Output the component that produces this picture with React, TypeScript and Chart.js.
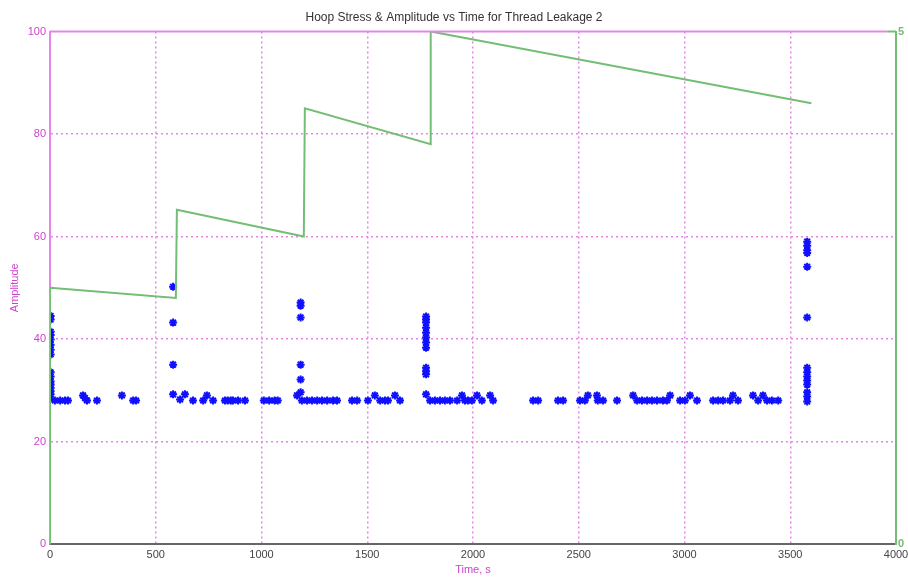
import React, { useEffect, useRef } from 'react';
import { Chart, registerables } from 'chart.js';
Chart.register(...registerables);

// Amplitude samples (time in s, amplitude)
const ampTime = [
  3, 3, 3, 3, 3, 3, 3, 3, 3, 3, 3, 3, 3, 3, 3, 3,
  23, 48, 71, 85, 156, 165, 175, 222, 340, 393, 407,
  582, 582, 582, 582,
  615, 638, 676, 724, 742, 771, 827, 840, 855, 865, 889, 922,
  1011, 1036, 1062, 1077,
  1185, 1185, 1185, 1185, 1185, 1185,
  1168, 1191, 1215, 1239, 1263, 1286, 1310, 1338, 1357, 1428, 1452,
  1503, 1536, 1561, 1584, 1598, 1631, 1655,
  1778, 1778, 1778, 1778, 1778, 1778, 1778, 1778, 1778, 1778, 1778, 1778,
  1797, 1820, 1844, 1867, 1891, 1925, 1948, 1962, 1976, 1995, 2019, 2042, 2081, 2095,
  2284, 2308, 2402, 2426, 2506, 2529, 2543, 2586, 2590, 2615, 2681,
  2757, 2776, 2799, 2823, 2846, 2870, 2898, 2917, 2932,
  2979, 3002, 3026, 3059, 3135, 3159, 3182, 3215, 3229, 3253,
  3324, 3348, 3371, 3390, 3413, 3443,
  3580, 3580, 3580, 3580, 3580, 3580, 3580, 3580, 3580, 3580, 3580, 3580, 3580, 3580,
];
const ampValue = [
  44.5, 43.8, 41.4, 40.8, 39.9, 38.9, 37.9, 37, 33.5, 32.7, 31.7, 31.1, 30.5, 29.8, 29.2, 28.4,
  28, 28, 28, 28, 29, 28.5, 28, 28, 29, 28, 28,
  50.2, 43.2, 35, 29.2,
  28.2, 29.2, 28, 28, 29, 28, 28, 28, 28, 28, 28, 28,
  28, 28, 28, 28,
  47.1, 46.5, 44.2, 35, 32.1, 29.6,
  29, 28, 28, 28, 28, 28, 28, 28, 28, 28, 28,
  28, 29, 28, 28, 28, 29, 28,
  44.4, 43.8, 43.2, 42.2, 41.2, 40.3, 39.3, 38.3, 34.4, 33.7, 33.1, 29.2,
  28, 28, 28, 28, 28, 28, 29, 28, 28, 28, 29, 28, 29, 28,
  28, 28, 28, 28, 28, 28, 29, 29, 28, 28, 28,
  29, 28, 28, 28, 28, 28, 28, 28, 29,
  28, 28, 29, 28, 28, 28, 28, 28, 29, 28,
  29, 28, 29, 28, 28, 28,
  59, 58.2, 57.3, 56.8, 54.1, 44.2, 34.4, 33.5, 32.7, 31.9, 31.1, 29.6, 28.8, 27.8,
];

// Hoop stress (right axis, 0..5)
const hoopTime = [0, 0, 595, 600, 1200, 1205, 1800, 1800, 3600];
const hoopStress = [0, 2.5, 2.4, 3.26, 3.0, 4.25, 3.9, 5, 4.3];

const rightTicks = [0, 5];

const MAGENTA_TEXT = '#cc44cc';
const MAGENTA_GRID = '#e585e5';
const GREEN = '#74bd74';
const FONT = 'Liberation Sans, Arial, sans-serif';

export default function App() {
  const ref = useRef<HTMLCanvasElement>(null);
  useEffect(() => {
    if (!ref.current) return;
    const framePlugin = {
      id: 'frame',
      afterDraw(chart: any) {
        const { ctx, chartArea } = chart;
        ctx.save();
        ctx.strokeStyle = MAGENTA_GRID;
        ctx.lineWidth = 2;
        ctx.beginPath();
        ctx.moveTo(chartArea.left, chartArea.top);
        ctx.lineTo(chartArea.right - 8, chartArea.top);
        ctx.stroke();
        ctx.strokeStyle = GREEN;
        ctx.beginPath();
        ctx.moveTo(chartArea.right - 8, chartArea.top);
        ctx.lineTo(chartArea.right, chartArea.top);
        ctx.stroke();
        ctx.restore();
      },
    };
    const chart = new Chart(ref.current, {
      type: 'scatter',
      data: {
        datasets: [
          {
            label: 'Hoop Stress',
            type: 'line',
            data: hoopTime.map((x, i) => ({ x, y: hoopStress[i] })),
            yAxisID: 'y2',
            borderColor: GREEN,
            borderWidth: 2,
            pointRadius: 0,
            fill: false,
            tension: 0,
          } as any,
          {
            label: 'Amplitude',
            data: ampTime.map((x, i) => ({ x, y: ampValue[i] })),
            yAxisID: 'y',
            pointStyle: 'star',
            pointRadius: 4,
            borderColor: '#1010ff',
            backgroundColor: '#1010ff',
            borderWidth: 2,
            showLine: false,
          },
        ],
      },
      options: {
        animation: false,
        responsive: false,
        layout: { padding: 0 },
        plugins: {
          legend: { display: false },
          tooltip: { enabled: false },
          title: {
            display: true,
            text: 'Hoop Stress & Amplitude vs Time for Thread Leakage 2',
            color: '#333333',
            font: { family: FONT, size: 12, weight: 'normal' },
            padding: { top: 10, bottom: 7.1 },
          },
        },
        scales: {
          x: {
            type: 'linear',
            min: 0,
            max: 4000,
            ticks: {
              stepSize: 500,
              color: '#444444',
              font: { family: FONT, size: 11 },
              padding: 4,
              maxRotation: 0,
              callback: (v: any) => String(v),
            },
            grid: {
              color: (c: any) => (c.tick && (c.tick.value === 0 || c.tick.value === 4000) ? 'rgba(0,0,0,0)' : MAGENTA_GRID),
              lineWidth: 1.5,
              drawTicks: false,
            },
            border: { display: true, color: '#666666', width: 2, dash: [2, 3] },
            title: {
              display: true,
              text: 'Time, s',
              color: MAGENTA_TEXT,
              font: { family: FONT, size: 11 },
              padding: { top: 2, bottom: 3.4 },
            },
            afterFit: (s: any) => {
              s.height = 36;
              s.paddingLeft = 0;
              s.paddingRight = 0;
            },
          },
          y: {
            position: 'left',
            min: 0,
            max: 100,
            ticks: { stepSize: 20, color: MAGENTA_TEXT, font: { family: FONT, size: 11 }, padding: 4 },
            grid: {
              color: (c: any) => (c.tick && (c.tick.value === 0 || c.tick.value === 100) ? 'rgba(0,0,0,0)' : MAGENTA_GRID),
              lineWidth: 1.5,
              drawTicks: false,
            },
            border: { display: true, color: MAGENTA_GRID, width: 2, dash: [2, 3] },
            title: {
              display: true,
              text: 'Amplitude',
              color: MAGENTA_TEXT,
              font: { family: FONT, size: 11 },
              padding: { top: 8.4, bottom: 0 },
            },
            afterFit: (s: any) => {
              s.width = 50;
              s.paddingTop = 0;
              s.paddingBottom = 0;
            },
          },
          y2: {
            position: 'right',
            min: 0,
            max: 5,
            ticks: { color: GREEN, font: { family: FONT, size: 11, weight: 'bold' }, padding: 2 },
            afterBuildTicks: (s: any) => {
              s.ticks = rightTicks.map((v) => ({ value: v }));
            },
            grid: { display: false, drawTicks: false },
            border: { display: true, color: GREEN, width: 2 },
            afterFit: (s: any) => {
              s.width = 12;
              s.paddingTop = 0;
              s.paddingBottom = 0;
            },
          },
        },
      },
      plugins: [framePlugin],
    } as any);
    return () => chart.destroy();
  }, []);
  return (
    <div style={{ position: 'fixed', left: 0, top: 0, width: 908, height: 580, background: '#ffffff' }}>
      <canvas ref={ref} width={908} height={580} />
    </div>
  );
}
